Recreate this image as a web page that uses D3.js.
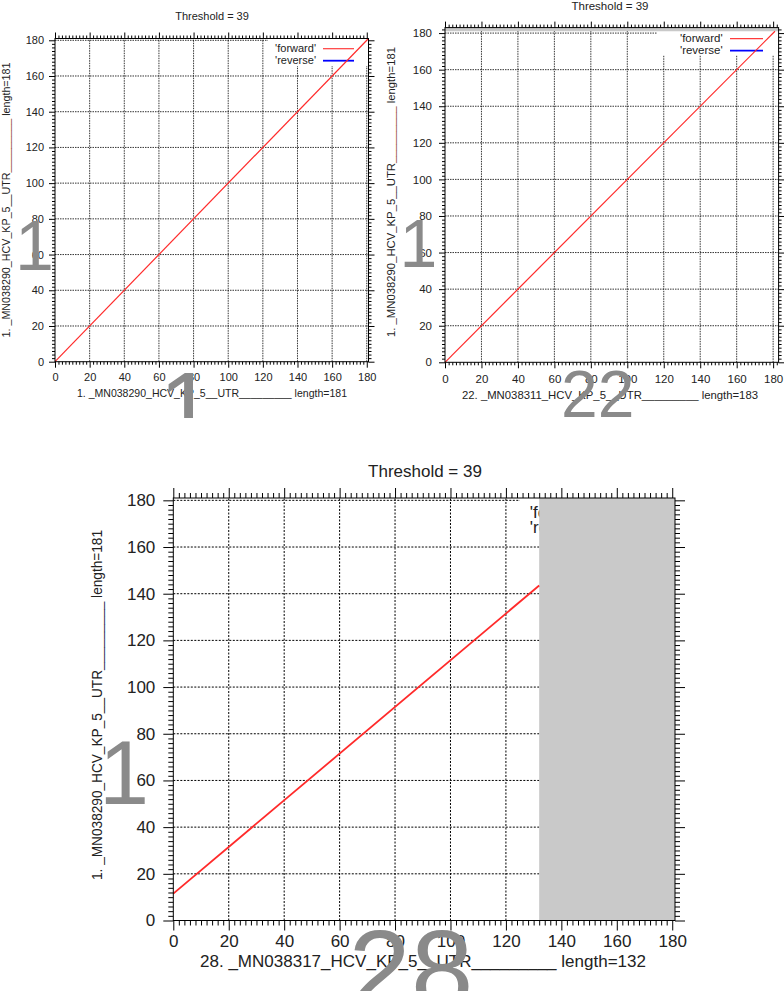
<!DOCTYPE html>
<html>
<head>
<meta charset="utf-8">
<script src="https://cdn.jsdelivr.net/npm/d3@7"></script>
<style>
  body { margin: 0; background: #fff; }
  svg { display: block; font-family: "Liberation Sans", Arial, sans-serif; }
</style>
</head>
<body>
<div id="chart"></div>
<script>
// ---- data ----
const panelTitles = ['Threshold = 39', 'Threshold = 39', 'Threshold = 39'];
const xSeqNames = [
  ['1. _MN038290_HCV_KP_5__UTR', '_________', ' length=181'],
  ['22. _MN038311_HCV_KP_5__UTR', '_________', ' length=183'],
  ['28. _MN038317_HCV_KP_5__UTR', '_________', ' length=132']
];
const ySeqNames = [
  ['1. _MN038290_HCV_KP_5__UTR', '_________', ' length=181'],
  ['1. _MN038290_HCV_KP_5__UTR', '_________', ' length=181'],
  ['1. _MN038290_HCV_KP_5__UTR', '_________', ' length=181']
];
const xSeqLengths = [181, 183, 132];
const ySeqLengths = [181, 181, 181];
const axisMax = [181, 183, 181];
const majorTicks = [0, 20, 40, 60, 80, 100, 120, 140, 160, 180];
const minorStep = 2;
const forwardHits = [
  [[0, 0], [181, 181]],
  [[0, 0], [181, 181]],
  [[0, 11.5], [132, 143.5]]
];
const reverseHits = [[], [], []];
const legendLabels = ["'forward'", "'reverse'"];
const ySeqNumbers = ['1', '1', '1'];
const xSeqNumbers = ['1', '22', '28'];

// ---- layout of each pasted panel ----
const layouts = [
  { x0: 55, x1: 368.5, y0: 361.7, y1: 38.5, font: 11, major: 6, minor: 3, lw: 1.2,
    title: [212, 20], xlab: [212, 397, 270], ylab: [10, 200, 275, 11], yPad: 5, xPad: 6,
    key: { right: 316, y: 52, dy: 12, l0: 323, l1: 354, boxL: 268, boxB: 66 },
    bigY: [15, 270, 70], bigX: [159, 442, 100], underY: '#8b3a1a' },
  { x0: 445, x1: 778.6, y0: 362.3, y1: 27.6, font: 11.5, major: 6, minor: 3, lw: 1.2,
    title: [610, 9.5], xlab: [610, 399, 296], ylab: [395, 192, 290, 11.5], yPad: 7, xPad: 6.5,
    key: { right: 722.7, y: 42, dy: 12, l0: 730, l1: 763, boxL: 657, boxB: 55 },
    bigY: [399.5, 266.7, 68], bigX: [561, 417, 66], underY: '#8b3a1a' },
  { x0: 173.3, x1: 675, y0: 920.5, y1: 498, font: 17, major: 10, minor: 5, lw: 1.8,
    title: [425, 477], xlab: [423, 967, 446], ylab: [102, 705, 350, 14], yPad: 8, xPad: 4,
    key: { right: 593, y: 518, dy: 15, l0: 600, l1: 660, boxL: 520, boxB: 537 },
    bigY: [99, 804, 90], bigX: [348.6, 1008, 112], underY: '#2a2a55' }
];

const W = 784, H = 991;
const svg = d3.select('#chart').append('svg')
  .attr('width', W).attr('height', H);

svg.append('defs').append('clipPath').attr('id', 'topclip')
  .append('rect').attr('x', 0).attr('y', 0).attr('width', W).attr('height', 418);

function drawPanel(i) {
  const L = layouts[i];
  const g = svg.append('g');
  const x = d3.scaleLinear().domain([0, axisMax[i]]).range([L.x0, L.x1]);
  const y = d3.scaleLinear().domain([0, axisMax[i]]).range([L.y0, L.y1]);
  const minors = d3.range(0, axisMax[i] + 0.01, minorStep).filter(v => v % 20 !== 0);
  const grid = g.append('g')
    .attr('stroke', '#000').attr('stroke-width', i === 2 ? 1 : 0.8)
    .attr('stroke-dasharray', i === 2 ? '2,1.5' : '1.5,1');

  // grid lines, cleared where the key sits
  majorTicks.filter(v => v > 0).forEach(v => {
    const px = x(v);
    grid.append('line')
      .attr('x1', px).attr('x2', px).attr('y1', L.y0)
      .attr('y2', px > L.key.boxL ? L.key.boxB : L.y1);
  });
  majorTicks.filter(v => v > 0).forEach(v => {
    const py = y(v);
    grid.append('line')
      .attr('y1', py).attr('y2', py).attr('x1', L.x0)
      .attr('x2', py < L.key.boxB ? L.key.boxL : L.x1);
  });

  // key
  const key = g.append('g').style('font-size', L.font + 'px').attr('fill', '#222');
  legendLabels.forEach((lab, k) => {
    key.append('text')
      .attr('x', L.key.right).attr('y', L.key.y + k * L.key.dy)
      .attr('text-anchor', 'end').text(lab);
    key.append('line')
      .attr('x1', L.key.l0).attr('x2', L.key.l1)
      .attr('y1', L.key.y + k * L.key.dy - L.font * 0.3)
      .attr('y2', L.key.y + k * L.key.dy - L.font * 0.3)
      .attr('stroke', k === 0 ? '#ff3b3b' : '#0000ff')
      .attr('stroke-width', k === 0 ? L.lw : L.lw + 0.6);
  });

  // grey area beyond each sequence's length
  const grey = g.append('g').attr('fill', '#c9c9c9');
  if (xSeqLengths[i] < axisMax[i]) {
    grey.append('rect')
      .attr('x', x(xSeqLengths[i])).attr('y', y(axisMax[i]))
      .attr('width', x(axisMax[i]) - x(xSeqLengths[i]))
      .attr('height', y(0) - y(axisMax[i]));
  }
  if (ySeqLengths[i] < axisMax[i]) {
    grey.append('rect')
      .attr('x', x(0)).attr('y', y(axisMax[i]))
      .attr('width', x(axisMax[i]) - x(0))
      .attr('height', y(ySeqLengths[i]) - y(axisMax[i]));
  }

  // hits
  const line = d3.line().x(d => x(d[0])).y(d => y(d[1]));
  g.append('path').datum(forwardHits[i])
    .attr('d', line).attr('fill', 'none')
    .attr('stroke', '#ff2a2a').attr('stroke-width', L.lw);
  if (reverseHits[i].length) {
    g.append('path').datum(reverseHits[i])
      .attr('d', line).attr('fill', 'none')
      .attr('stroke', '#0000ff').attr('stroke-width', L.lw);
  }

  // frame
  g.append('rect')
    .attr('x', L.x0).attr('y', L.y1)
    .attr('width', L.x1 - L.x0).attr('height', L.y0 - L.y1)
    .attr('fill', 'none').attr('stroke', '#000').attr('stroke-width', 1);

  // axes: labelled bottom/left, mirrored ticks top/right
  const axes = [
    [d3.axisBottom(x), `translate(0,${L.y0})`, true],
    [d3.axisLeft(y), `translate(${L.x0},0)`, true],
    [d3.axisTop(x), `translate(0,${L.y1})`, false],
    [d3.axisRight(y), `translate(${L.x1},0)`, false]
  ];
  axes.forEach(([ax, tr, labelled], k) => {
    const pad = k === 0 ? L.xPad : L.yPad;
    const maj = g.append('g').attr('transform', tr)
      .call(ax.tickValues(majorTicks).tickSize(L.major).tickSizeOuter(0)
        .tickPadding(pad).tickFormat(labelled ? d3.format('d') : ''));
    maj.select('.domain').remove();
    maj.selectAll('text').style('font-size', L.font + 'px').attr('fill', '#222')
      .attr('font-family', '"Liberation Sans", Arial, sans-serif');
    const mn = g.append('g').attr('transform', tr)
      .call(ax.tickValues(minors).tickSize(L.minor).tickFormat(''));
    mn.select('.domain').remove();
  });

  // title and axis names
  g.append('text')
    .attr('x', L.title[0]).attr('y', L.title[1])
    .attr('text-anchor', 'middle').attr('fill', '#222')
    .style('font-size', L.font + 'px').text(panelTitles[i]);

  const xl = g.append('text')
    .attr('x', L.xlab[0]).attr('y', L.xlab[1])
    .attr('text-anchor', 'middle').attr('fill', '#222')
    .attr('textLength', L.xlab[2]).attr('lengthAdjust', 'spacingAndGlyphs')
    .style('font-size', L.font + 'px');
  xSeqNames[i].forEach(s => xl.append('tspan').text(s));

  const yl = g.append('text')
    .attr('transform', `translate(${L.ylab[0]},${L.ylab[1]}) rotate(-90)`)
    .attr('text-anchor', 'middle').attr('fill', '#222')
    .attr('textLength', L.ylab[2]).attr('lengthAdjust', 'spacingAndGlyphs')
    .style('font-size', L.ylab[3] + 'px');
  ySeqNames[i].forEach((s, k) => yl.append('tspan')
    .attr('fill', k === 1 ? L.underY : '#222').text(s));

  // big sequence numbers pasted over the plot
  const big = svg.append('g').attr('fill', '#8a8a8a')
    .attr('clip-path', i < 2 ? 'url(#topclip)' : null);
  big.append('text').attr('x', L.bigY[0]).attr('y', L.bigY[1])
    .style('font-size', L.bigY[2] + 'px').text(ySeqNumbers[i]);
  big.append('text').attr('x', L.bigX[0]).attr('y', L.bigX[1])
    .style('font-size', L.bigX[2] + 'px').text(xSeqNumbers[i]);
}

[0, 1, 2].forEach(drawPanel);
</script>
</body>
</html>
